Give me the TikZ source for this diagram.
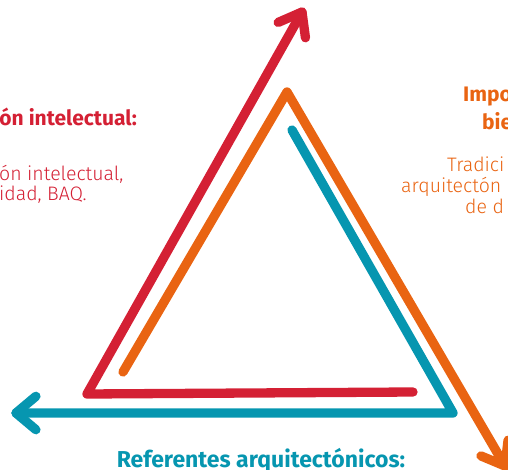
\documentclass[tikz,border=0pt]{standalone}
\usepackage{fontspec}
\setmainfont{Fira Sans}
\newfontfamily\lightfont{Fira Sans Light}
\usetikzlibrary{calc}
\definecolor{cred}{RGB}{212,32,52}
\definecolor{corange}{RGB}{233,100,18}
\definecolor{cteal}{RGB}{6,150,176}
\tikzset{
  band/.style={line width=9.3pt, line cap=round, line join=round},
  txt/.style={inner sep=0pt, font=\fontsize{19.5}{22}\lightfont},
  head/.style={inner sep=0pt, font=\fontsize{21}{24}\selectfont\bfseries},
  bighead/.style={inner sep=0pt, font=\fontsize{23}{26}\selectfont\bfseries},
}
\begin{document}
\begin{tikzpicture}[x=1pt,y=-1pt]
\useasboundingbox (0,0) rectangle (508,470);
% red path
\coordinate (r1) at (413,392);
\coordinate (r2) at (87,394);
\coordinate (r3) at (302,12);
\draw[band,cred] (r1) -- (r2) -- (r3);
\draw[band,cred] ($(r3)!26pt!37:(r2)$) -- (r3) -- ($(r3)!26pt!-37:(r2)$);
% orange path
\coordinate (o1) at (123,372);
\coordinate (o2) at (287,92);
\coordinate (o3) at (505,466);
\draw[band,corange] (o1) -- (o2) -- (o3);
\draw[band,corange] ($(o3)!26pt!37:(o2)$) -- (o3) -- ($(o3)!26pt!-37:(o2)$);
% teal path
\coordinate (b1) at (292,130);
\coordinate (b2) at (453,413);
\coordinate (b3) at (16,413);
\draw[band,cteal] (b1) -- (b2) -- (b3);
\draw[band,cteal] ($(b3)!26pt!40:(b2)$) -- (b3) -- ($(b3)!26pt!-40:(b2)$);
% left texts
\node[head,cred,anchor=base east] (lh) at (137,126) {ón intelectual:};
\node[txt,cred,anchor=base west] (l1) at (-1,181) {ón intelectual,};
\node[txt,cred,anchor=base west] (l2) at (-1,201) {idad, BAQ.};
% right texts
\node[head,corange,anchor=base west] (rh1) at (463,102) {Impo};
\node[head,corange,anchor=base west] (rh2) at (482,130) {bie};
\node[txt,corange,anchor=base west] (rt1) at (447,172) {Tradici};
\node[txt,corange,anchor=base west] (rt2) at (401,193) {arquitectón};
\node[txt,corange,anchor=base west] (rt3) at (465,214) {de d};
% bottom text
\node[bighead,cteal,anchor=base] (bt) at (261,467) {Referentes arquitectónicos:};
\end{tikzpicture}
\end{document}
